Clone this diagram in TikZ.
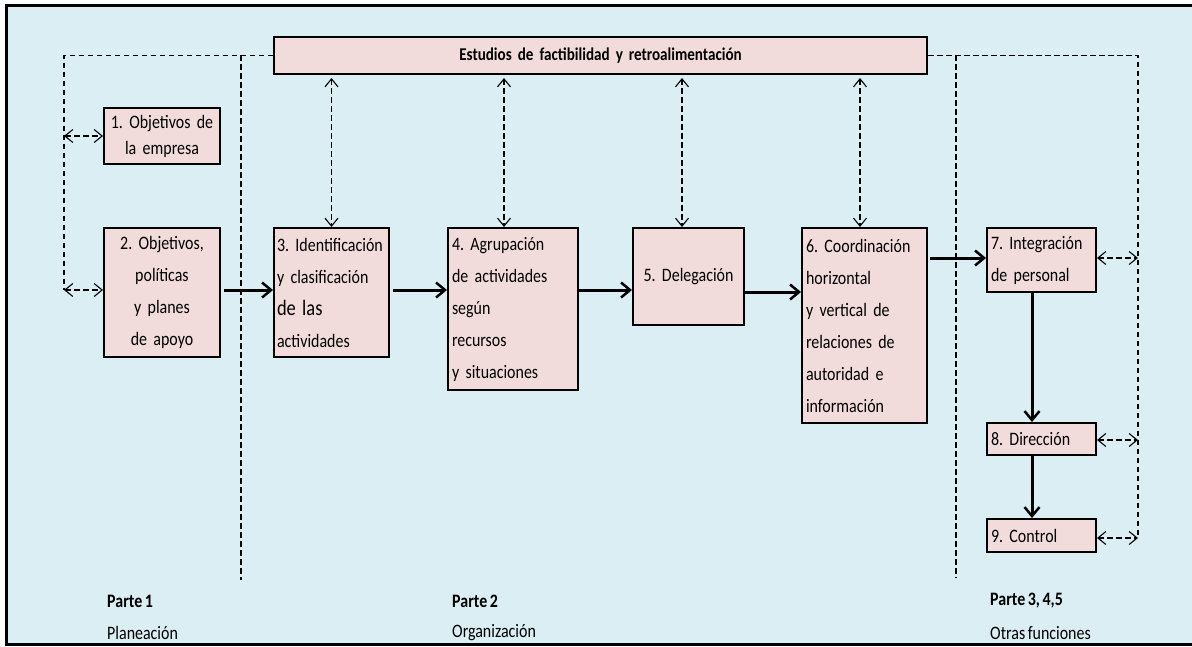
\documentclass[tikz,border=0pt]{standalone}
\usepackage{fontspec}
\setmainfont{Carlito}[FakeStretch=0.84,WordSpace=0.7]
\usetikzlibrary{arrows.meta,calc}
\definecolor{bgblue}{HTML}{DAEEF3}
\definecolor{boxpink}{HTML}{F2DCDB}
\frenchspacing
\begin{document}
\begin{tikzpicture}[x=1pt,y=-1pt,
  box/.style={draw=black,line width=2pt,fill=boxpink,anchor=north west,inner xsep=4pt,inner ysep=0pt,font=\fontsize{19}{32}\selectfont},
  flow/.style={line width=3pt,-{Straight Barb[length=9pt,width=15pt,line width=2.5pt]}},
  fb/.style={line width=1.3pt,dash pattern=on 5.5pt off 3.5pt,{Straight Barb[length=8pt,width=13pt,line width=1.1pt]}-{Straight Barb[length=8pt,width=13pt,line width=1.1pt]}},
  dline/.style={line width=1.3pt,dash pattern=on 5.5pt off 3.5pt},
  lbl/.style={anchor=west,inner sep=0pt,font=\fontsize{19}{20}\selectfont},
  lblb/.style={lbl,font=\bfseries\fontsize{19}{20}\selectfont}]
\useasboundingbox (0,0) rectangle (1192,646);
% background and frame
\fill[bgblue] (5,5) rectangle (1192,644);
\draw[line width=3pt] (1192,5) -- (6,5) -- (6,644) -- (1192,644);

% boxes
\node[box,minimum width=653pt,minimum height=37pt,text width=640pt,align=center,font=\bfseries\fontsize{18}{18}\selectfont] (bar) at (273,36) {Estudios de factibilidad y retroalimentación};
\node[box,minimum width=116pt,minimum height=56pt,text width=108pt,align=center,font=\fontsize{19}{26}\selectfont] (b1) at (103,107) {1. Objetivos de\\la empresa};
\node[box,minimum width=116pt,minimum height=129pt,text width=108pt,align=center] (b2) at (103,227) {2. Objetivos,\\políticas\\y planes\\de apoyo};
\node[box,inner xsep=3pt,minimum width=115pt,minimum height=129pt,text width=109pt,align=left] (b3) at (273,227) {3. Identificación\\y clasificación\\{\fontsize{22}{32}\selectfont de las}\\actividades};
\node[box,minimum width=130pt,minimum height=162pt,text width=122pt,align=left] (b4) at (447,227) {4. Agrupación\\de actividades\\según\\recursos\\y situaciones};
\node[box,minimum width=111pt,minimum height=97pt,text width=103pt,align=center] (b5) at (632,227) {5. Delegación};
\node[box,minimum width=125pt,minimum height=195pt,text width=117pt,align=left] (b6) at (801,227) {6. Coordinación\\horizontal\\y vertical de\\relaciones de\\autoridad e\\información};
\node[box,minimum width=109pt,minimum height=64pt,text width=101pt,align=left] (b7) at (986,227) {7. Integración\\de personal};
\node[box,minimum width=109pt,minimum height=32pt,text width=101pt,align=left] (b8) at (986,422) {8. Dirección};
\node[box,minimum width=109pt,minimum height=33pt,text width=101pt,align=left] (b9) at (986,518) {9. Control};

% helper coordinates
\coordinate (lx) at (64,0);
\coordinate (rx) at (1138,0);
\coordinate (v1t) at (241,55);
\coordinate (v1b) at (241,580);
\coordinate (v2t) at (956,55);
\coordinate (v2b) at (956,578);
\coordinate (ya) at (0,290);
\coordinate (yb) at (0,292);
\coordinate (vx) at (1032,0);
\coordinate (x4) at (504,0);
\coordinate (x5) at (682,0);
\coordinate (x6) at (860,0);
\coordinate (l9) at (0,538);
\coordinate (l8) at (0,440);
\coordinate (l7) at (0,258);

% dashed loops
\draw[dline] (bar.west) -- (bar.west -| lx) -- (lx |- ya);
\draw[dline] (v1t) -- (v1b);
\draw[dline] (bar.east) -- (bar.east -| rx) -- (rx |- l9);
\draw[dline] (v2t) -- (v2b);

% dashed feedback arrows
\draw[fb] (lx |- b1.west) -- (b1.west);
\draw[fb] (lx |- ya) -- (b2.west |- ya);
\draw[fb] ([yshift=-3pt]bar.south -| b3.north) -- (b3.north);
\draw[fb] ([yshift=-3pt]bar.south -| x4) -- (b4.north -| x4);
\draw[fb] ([yshift=-3pt]bar.south -| x5) -- (b5.north -| x5);
\draw[fb] ([yshift=-3pt]bar.south -| x6) -- (b6.north -| x6);
\draw[fb] (b7.east |- l7) -- (rx |- l7);
\draw[fb] (b8.east |- l8) -- (rx |- l8);
\draw[fb] (b9.east |- l9) -- (rx |- l9);

% main flow
\draw[flow,shorten <=3pt] (b2.east |- ya) -- (b3.west |- ya);
\draw[flow,shorten <=3pt] (b3.east |- ya) -- (b4.west |- ya);
\draw[flow] (b4.east |- ya) -- (b5.west |- ya);
\draw[flow] (b5.east |- yb) -- (b6.west |- yb);
\draw[flow,shorten <=2pt] (b6.east |- l7) -- (b7.west |- l7);
\draw[flow] (b7.south -| vx) -- (b8.north -| vx);
\draw[flow] (b8.south -| vx) -- (b9.north -| vx);

% part labels
\node[lblb] (p1) at (107,601) {Parte 1};
\node[lbl] (p1b) at (107,633) {Planeación};
\node[lblb] (p2) at (452,601) {Parte 2};
\node[lbl] (p2b) at (452,633) {Organización};
\node[lblb] (p3) at (990,601) {Parte 3, 4,5};
\node[lbl] (p3b) at (990,633) {Otras funciones};
\end{tikzpicture}
\end{document}
